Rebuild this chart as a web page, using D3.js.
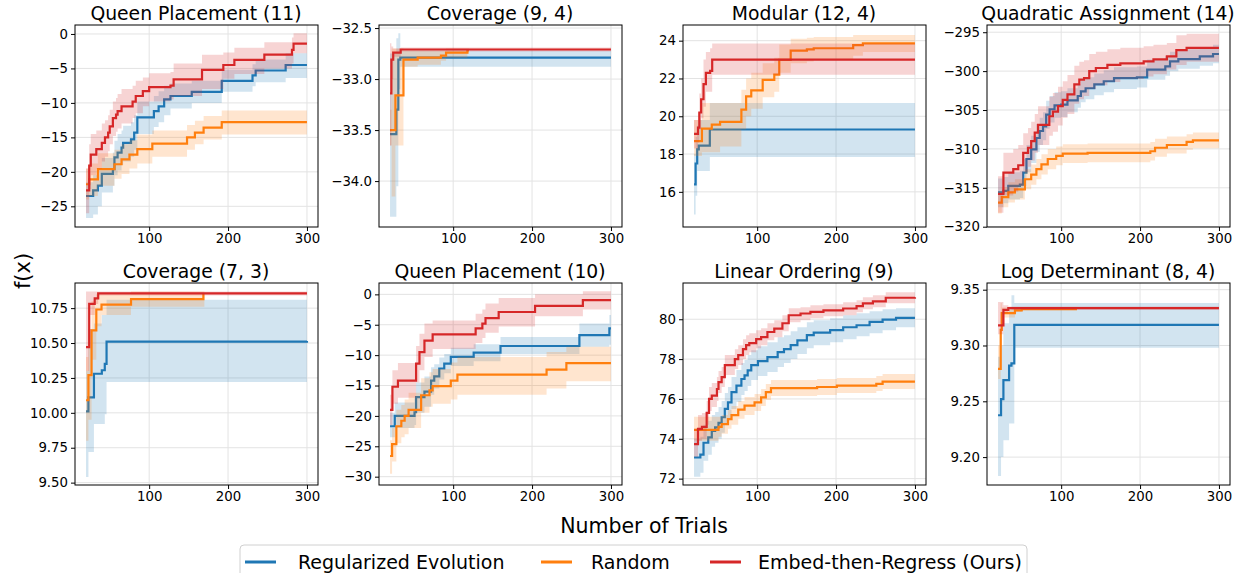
<!DOCTYPE html>
<html>
<head>
<meta charset="utf-8">
<script src="https://cdn.jsdelivr.net/npm/d3@7"></script>
<style>
  body { margin: 0; background: #fff; }
  svg { font-family: "DejaVu Sans", sans-serif; }
</style>
</head>
<body>
<svg id="chart" width="1236" height="573"></svg>
<script>
// series names + colours (legend order)
const seriesNames = ["Regularized Evolution", "Random", "Embed-then-Regress (Ours)"];
const seriesColors = ["#1f77b4", "#ff7f0e", "#d62728"];

const xTicks = [100, 200, 300];
const xDomain = [6, 314];

// each step point: [trial, mean, lower, upper]
// Queen Placement (11)
const qp11RE = [[20,-23.5,-26.7,-21.5],[29,-22.7,-26.2,-20.5],[35,-22,-25,-19.5],[40,-20.3,-23,-18],[54,-19.6,-22,-17.2],[56,-17.9,-20.5,-15.5],[60,-17.2,-19.8,-14.5],[65,-16.5,-19,-14],[67,-15.8,-18.5,-13.3],[77,-15.3,-17.8,-12.8],[81,-14.3,-16.8,-11.8],[85,-12.1,-14.5,-9.8],[106,-11.2,-13.5,-9],[112,-10.5,-12.8,-8.3],[119,-9.5,-11.8,-7.5],[127,-9.0,-10.8,-7.2],[154,-8.4,-10,-6.8],[192,-6.8,-8.4,-5.2],[231,-6.0,-7.6,-4.4],[235,-5.3,-7,-3.7],[273,-4.5,-6.4,-2.8],[300,-4.5,-6.4,-2.8]];
const qp11Rand = [[20,-21.8,-24,-19.5],[24,-21.1,-23.5,-18.8],[35,-19.6,-22,-17.3],[56,-18.9,-21,-16.8],[65,-18.2,-20.3,-16],[75,-17.5,-19.5,-15.4],[85,-16.7,-18.8,-14.6],[104,-15.9,-17.8,-14],[148,-15,-16.8,-13.2],[158,-14.3,-16,-12.6],[169,-13.6,-15.3,-11.9],[192,-12.8,-14.6,-11.1],[300,-12.8,-14.6,-11.1]];
const qp11EtR = [[20,-22.7,-26,-19.5],[24,-19.1,-22.5,-16],[26,-17.5,-20.5,-14.5],[33,-16.7,-19.5,-14],[40,-15.8,-18.5,-13],[44,-15,-17.8,-12.5],[48,-14.3,-17,-11.8],[50,-13.4,-16,-11],[54,-12.2,-14.8,-9.8],[58,-11.7,-14.2,-9.3],[60,-11.2,-13.7,-8.7],[65,-10.5,-13,-8],[79,-9.8,-12.2,-7.5],[83,-9.0,-11.5,-6.8],[92,-8.3,-10.5,-6.3],[100,-7.7,-9.8,-5.7],[127,-7.5,-9.5,-5.5],[131,-6.6,-9,-4.3],[167,-5.2,-8,-3],[194,-4.5,-6.5,-2.7],[208,-3.75,-5.8,-2],[246,-3.0,-5,-1.2],[281,-2.3,-4.3,-0.5],[283,-1.4,-2.8,0.1],[300,-1.4,-2.8,0.1]];

// Coverage (9, 4)
const cov94RE = [[20,-33.54,-34.35,-32.75],[28,-33.3,-34.05,-32.6],[30.5,-32.81,-33.1,-32.55],[33,-32.79,-32.88,-32.72],[300,-32.79,-32.86,-32.73]];
const cov94Rand = [[20,-33.5,-33.65,-33.3],[22,-33.5,-34.15,-32.7],[26.8,-33.16,-33.65,-32.7],[37,-32.81,-32.88,-32.72],[55,-32.79,-32.86,-32.72],[84.5,-32.77,-32.82,-32.72],[91,-32.74,-32.79,-32.7],[118,-32.72,-32.75,-32.7],[120,-32.72,-32.75,-32.7]];
const cov94EtR = [[20,-33.14,-33.65,-32.65],[21.7,-32.81,-33.0,-32.68],[24,-32.74,-32.78,-32.7],[33.5,-32.71,-32.73,-32.69],[300,-32.71,-32.73,-32.69]];

// Modular (12, 4)
const mod124RE = [[20,16.4,14.8,18.0],[22,17.5,15.8,18.9],[24,18.25,17.1,19.5],[26,18.45,17.1,19.8],[40,19.3,17.85,20.7],[300,19.3,17.85,20.7]];
const mod124Rand = [[20,18.68,17.9,19.8],[30,19.35,18.1,20.7],[42.5,19.56,18.1,20.7],[53,19.7,18.4,20.7],[80,20.35,19.3,21.4],[86,21.05,20.0,22.0],[92.5,21.37,20.4,22.3],[107,21.93,21.0,22.8],[121.7,22.2,21.3,23.1],[128,22.98,22.3,23.8],[142.5,23.47,22.8,24.1],[163,23.54,22.9,24.15],[171.7,23.6,23.0,24.2],[221.7,23.77,23.2,24.3],[234,23.86,23.4,24.3],[300,23.86,23.4,24.3]];
const mod124EtR = [[20,19.07,18.3,19.8],[25,19.4,18.6,20.2],[26.7,20.2,19.3,21.2],[29,20.9,19.9,22],[32,21.7,20.5,23],[35,22.3,21.3,23.4],[40.4,22.4,21.3,23.6],[43,23.0,22.2,23.85],[300,23.0,22.2,23.85]];

// Quadratic Assignment (14)
const qa14RE = [[20,-315.6,-317.5,-313.8],[26.8,-315.4,-317,-313.6],[33,-314.75,-316.5,-313],[47.7,-314.6,-316.3,-312.8],[51.9,-313.05,-314.8,-311.3],[56,-311.3,-313,-309.5],[62,-310.06,-311.8,-308.3],[68.6,-308.6,-310.4,-306.8],[72.8,-307.7,-309.5,-306],[77,-307.1,-308.9,-305.3],[81,-305.6,-307.4,-303.8],[85.4,-304.9,-306.6,-303.2],[91.6,-304.4,-306,-302.7],[100,-304.3,-305.9,-302.6],[108,-303.75,-305.3,-302.2],[121,-303.2,-304.7,-301.7],[125,-302.6,-304,-301.2],[131,-302.2,-303.6,-300.8],[142,-301.7,-303.1,-300.3],[154,-301.3,-302.7,-299.9],[167,-300.9,-302.3,-299.5],[196,-300.8,-302.1,-299.4],[209,-299.8,-301.1,-298.5],[232,-299.4,-300.6,-298.1],[238,-298.75,-300,-297.5],[248.5,-298.45,-299.7,-297.2],[275.7,-298.1,-299.3,-296.9],[292.5,-297.8,-299,-296.6],[300,-297.8,-299,-296.6]];
const qa14Rand = [[20,-316.9,-318.3,-315.5],[24.7,-316.2,-317.5,-314.9],[33,-315.6,-316.9,-314.3],[41.4,-315.2,-316.5,-313.9],[54,-313.9,-315.2,-312.6],[62,-313.3,-314.6,-312],[68.6,-312.6,-313.9,-311.3],[75,-312,-313.3,-310.7],[83,-311.3,-312.6,-310],[93.7,-310.9,-312.1,-309.7],[102,-310.6,-311.8,-309.4],[133.5,-310.5,-311.7,-309.3],[213,-310.3,-311.5,-309.1],[219,-309.85,-311,-308.7],[234,-309.5,-310.6,-308.4],[259,-309.1,-310.1,-308.1],[267,-308.9,-309.9,-307.9],[300,-308.9,-309.9,-307.9]];
const qa14EtR = [[20,-315.8,-318.2,-313.5],[26.8,-313.05,-316,-310.5],[39.3,-312.6,-315.5,-310],[45.6,-312.1,-314.8,-309.5],[51.9,-310.5,-313,-308],[58,-309.85,-312.3,-307.3],[62,-309,-311.5,-306.5],[66.5,-307.9,-310.5,-305.5],[70.7,-306.9,-309.5,-304.5],[85,-305.8,-308.3,-303.3],[89.5,-305.2,-307.8,-302.8],[96,-304.5,-307,-302],[102,-303.7,-306,-301.3],[108,-303,-305.5,-300.5],[116.7,-301.7,-304.2,-299.3],[123,-301.1,-303.6,-298.8],[129,-300.9,-303.2,-298.6],[135.6,-300,-302.3,-297.8],[144,-299.6,-301.8,-297.5],[158.6,-299.2,-301.4,-297.2],[175,-299,-301,-297],[204.6,-298.75,-300.7,-296.8],[217,-298.5,-300.4,-296.6],[234,-298.1,-299.8,-296.4],[246,-297.3,-299.2,-295.4],[259,-297,-298.8,-295.2],[300,-297,-298.8,-295.2]];

// Coverage (7, 3)
const cov73RE = [[20,10.01,9.54,10.3],[23,10.11,9.72,10.6],[30,10.28,9.92,10.64],[40,10.305,9.92,10.7],[43.75,10.35,9.99,10.7],[46,10.51,10.22,10.81],[300,10.515,10.22,10.81]];
const cov73Rand = [[20,10.09,9.8,10.4],[23,10.27,9.95,10.6],[27,10.59,10.38,10.8],[33,10.74,10.62,10.85],[39.6,10.775,10.7,10.85],[77,10.815,10.76,10.87],[168.75,10.85,10.76,10.87],[170,10.85,10.76,10.87]];
const cov73EtR = [[20,10.47,10.3,10.87],[24,10.78,10.7,10.87],[31,10.82,10.78,10.87],[35.4,10.855,10.84,10.87],[300,10.855,10.84,10.87]];

// Queen Placement (10)
const qp10RE = [[20,-21.7,-23.5,-19.5],[26,-20,-22,-17.8],[51,-19.4,-21.5,-17],[53,-16.9,-19.5,-14.5],[63.6,-16,-18.5,-13.5],[72,-14.2,-16.5,-12],[76,-13.5,-15.5,-11.5],[82.4,-12.2,-14,-10.4],[88.7,-11.4,-13,-9.8],[97,-10.3,-11.8,-8.8],[126,-9.6,-11,-8.2],[160,-8.5,-9.8,-7.0],[260,-6.7,-8.6,-4.8],[298,-5.6,-8.3,-3.4],[300,-5.6,-8.3,-3.4]];
const qp10Rand = [[20,-26.6,-29.5,-24],[22.6,-24.65,-27.5,-22],[28,-21.7,-24.5,-19],[34.3,-20.8,-23.5,-18.2],[38.5,-20,-23,-17.3],[43.5,-19,-22,-16.2],[59.4,-16.6,-19.5,-13.8],[70,-15.8,-18.5,-12.8],[74,-15.1,-18,-12.3],[97,-14.2,-17.3,-11.2],[105.4,-13.2,-16.5,-10.3],[218.4,-12.4,-15.5,-9.5],[243.5,-11.3,-14.3,-8.6],[300,-11.3,-14.3,-8.6]];
const qp10EtR = [[20,-19,-21.5,-16.5],[23,-15.2,-18,-12.5],[30,-14.2,-17,-11.3],[53,-11.4,-14.5,-8.5],[57.3,-9.5,-12.5,-6.5],[63.6,-7.6,-10.3,-4.8],[74,-6.6,-9,-4.3],[128.5,-5.6,-8,-3.2],[137,-4.8,-7.2,-2.5],[141,-3.9,-6.3,-1.5],[157.7,-2.9,-5.3,-0.6],[203.8,-1.9,-3.6,0],[264.4,-0.94,-2.5,0.5],[300,-0.94,-2.5,0.5]];

// Linear Ordering (9)
const lo9RE = [[20,73.06,72.1,74.0],[28,73.2,72.3,74.1],[32,73.8,72.9,74.7],[38,74.07,73.2,74.9],[42.5,74.4,73.6,75.2],[46.7,74.57,73.8,75.35],[51,74.8,74.0,75.6],[55,75.08,74.3,75.9],[59,75.5,74.7,76.3],[63,75.83,75.0,76.6],[67.5,76.34,75.5,77.1],[73.75,76.67,75.85,77.45],[80,77.0,76.2,77.8],[84,77.18,76.4,77.95],[88,77.43,76.65,78.2],[92.5,77.7,76.95,78.45],[101,77.9,77.15,78.65],[113,78.1,77.35,78.85],[126,78.35,77.6,79.1],[134,78.5,77.8,79.2],[142.5,78.7,78.0,79.4],[151,78.94,78.25,79.6],[163,79.2,78.55,79.85],[171.7,79.33,78.7,79.95],[192.5,79.45,78.85,80.05],[209,79.6,79.0,80.2],[226,79.7,79.15,80.3],[242.5,79.87,79.3,80.4],[259,79.98,79.45,80.5],[276,80.07,79.6,80.55],[300,80.07,79.6,80.55]];
const lo9Rand = [[20,74.45,73.9,75.1],[51,74.6,74.1,75.1],[55,74.74,74.25,75.2],[63,74.99,74.5,75.45],[67.5,75.19,74.7,75.65],[76,75.46,75.0,75.9],[84,75.66,75.2,76.1],[96.7,75.83,75.4,76.25],[105,76.08,75.65,76.5],[111,76.34,75.95,76.75],[117.5,76.54,76.15,76.95],[176,76.6,76.2,77.0],[201,76.67,76.3,77.05],[251,76.76,76.4,77.15],[259,76.87,76.5,77.25],[300,76.87,76.5,77.25]];
const lo9EtR = [[20,73.73,73.1,74.5],[25,74.5,73.9,75.2],[30,74.6,74.0,75.3],[36,75.3,74.7,75.9],[39,76.0,75.4,76.6],[42.5,76.17,75.6,76.8],[49,76.5,75.9,77.1],[51,76.84,76.3,77.4],[55,77.1,76.6,77.6],[59,77.7,77.2,78.2],[71.7,78.0,77.5,78.5],[76,78.2,77.7,78.7],[82,78.5,78.0,79.0],[86,78.7,78.2,79.2],[90,78.8,78.35,79.3],[98.75,79.0,78.55,79.45],[105,79.1,78.7,79.55],[113,79.36,78.95,79.8],[121.7,79.53,79.1,79.95],[132,79.8,79.4,80.2],[140,80.2,79.85,80.55],[155,80.29,79.95,80.6],[167.5,80.37,80.05,80.7],[184,80.45,80.15,80.75],[209,80.54,80.2,80.85],[226,80.66,80.35,80.95],[234,80.8,80.5,81.1],[246.7,80.9,80.6,81.2],[263,81.08,80.8,81.35],[300,81.1,80.8,81.35]];

// Log Determinant (8, 4)
const ld84RE = [[20,9.2375,9.183,9.29],[23.8,9.252,9.2,9.3],[26.8,9.269,9.215,9.32],[34,9.282,9.23,9.332],[37,9.284,9.23,9.345],[40.6,9.3185,9.298,9.338],[300,9.3185,9.298,9.338]];
const ld84Rand = [[20,9.279,9.27,9.3],[23.4,9.314,9.3,9.338],[24.7,9.329,9.325,9.334],[41.4,9.3315,9.33,9.333],[50,9.3326,9.3316,9.3336],[120,9.3326,9.3316,9.3336]];
const ld84EtR = [[20,9.318,9.31,9.339],[26.8,9.332,9.329,9.336],[33,9.3335,9.332,9.335],[300,9.3335,9.332,9.335]];

const titles = ["Queen Placement (11)", "Coverage (9, 4)", "Modular (12, 4)", "Quadratic Assignment (14)",
                "Coverage (7, 3)", "Queen Placement (10)", "Linear Ordering (9)", "Log Determinant (8, 4)"];
const yDomains = [[-28, 1.3], [-34.45, -32.47], [14.14, 24.83], [-320.04, -294.07],
                  [9.483, 10.93], [-31.37, 1.87], [71.68, 81.82], [9.175, 9.356]];
const yTicks = [[-25, -20, -15, -10, -5, 0], [-34.0, -33.5, -33.0, -32.5], [16, 18, 20, 22, 24], [-320, -315, -310, -305, -300, -295],
                [9.5, 9.75, 10, 10.25, 10.5, 10.75], [-30, -25, -20, -15, -10, -5, 0], [72, 74, 76, 78, 80], [9.2, 9.25, 9.3, 9.35]];
const yFormats = ["d", ".1f", "d", "d", ".2f", "d", "d", ".2f"];
const panelSeries = [
  [qp11RE, qp11Rand, qp11EtR], [cov94RE, cov94Rand, cov94EtR], [mod124RE, mod124Rand, mod124EtR], [qa14RE, qa14Rand, qa14EtR],
  [cov73RE, cov73Rand, cov73EtR], [qp10RE, qp10Rand, qp10EtR], [lo9RE, lo9Rand, lo9EtR], [ld84RE, ld84Rand, ld84EtR]
];

var svg = d3.select("#chart");
var colLeft = [75, 379, 683, 987];
var rowTop = [25, 283];
var pw = 243, ph = 202;

panelSeries.forEach(function(series, i) {
    var left = colLeft[i % 4], top = rowTop[Math.floor(i / 4)];
    var x = d3.scaleLinear().domain(xDomain).range([0, pw]);
    var y = d3.scaleLinear().domain(yDomains[i]).range([ph, 0]);

    var g = svg.append("g").attr("transform", "translate(" + left + "," + top + ")");

    // grid
    g.append("g").selectAll("line.gx").data(xTicks).enter().append("line")
        .attr("x1", d => x(d)).attr("x2", d => x(d)).attr("y1", 0).attr("y2", ph)
        .attr("stroke", "#e3e3e3").attr("stroke-width", 1);
    g.append("g").selectAll("line.gy").data(yTicks[i]).enter().append("line")
        .attr("y1", d => y(d)).attr("y2", d => y(d)).attr("x1", 0).attr("x2", pw)
        .attr("stroke", "#e3e3e3").attr("stroke-width", 1);

    var clip = "clip" + i;
    g.append("clipPath").attr("id", clip).append("rect").attr("width", pw).attr("height", ph);
    var plot = g.append("g").attr("clip-path", "url(#" + clip + ")");

    var area = d3.area().curve(d3.curveStepAfter)
        .x(d => x(d[0])).y0(d => y(d[2])).y1(d => y(d[3]));
    var line = d3.line().curve(d3.curveStepAfter)
        .x(d => x(d[0])).y(d => y(d[1]));

    series.forEach(function(s, k) {
        plot.append("path").attr("d", area(s))
            .attr("fill", seriesColors[k]).attr("fill-opacity", 0.2);
        plot.append("path").attr("d", line(s))
            .attr("fill", "none").attr("stroke", seriesColors[k]).attr("stroke-width", 2.2);
    });

    // axes
    var fmt = d3.format(yFormats[i]);
    var ax = g.append("g").attr("transform", "translate(0," + ph + ")")
        .call(d3.axisBottom(x).tickValues(xTicks).tickSize(4).tickPadding(3));
    var ay = g.append("g")
        .call(d3.axisLeft(y).tickValues(yTicks[i]).tickFormat(fmt).tickSize(4).tickPadding(3));
    [ax, ay].forEach(function(a) {
        a.select(".domain").remove();
        a.selectAll("text").attr("font-size", "13.3px").attr("font-family", "DejaVu Sans").attr("fill", "#000");
        a.selectAll("line").attr("stroke", "#000");
    });

    g.append("rect").attr("width", pw).attr("height", ph)
        .attr("fill", "none").attr("stroke", "#000").attr("stroke-width", 1);

    g.append("text").attr("x", pw / 2 - 0.5).attr("y", -5)
        .attr("text-anchor", "middle").attr("font-size", "18.8px").attr("fill", "#000")
        .text(titles[i]);
});

// shared labels
svg.append("text").attr("x", 644).attr("y", 533).attr("text-anchor", "middle")
    .attr("font-size", "20.5px").text("Number of Trials");
svg.append("text").attr("transform", "translate(30,271) rotate(-90)").attr("text-anchor", "middle")
    .attr("font-size", "21px").text("f(x)");

// legend
var leg = svg.append("g");
leg.append("rect").attr("x", 240).attr("y", 545).attr("width", 787).attr("height", 40).attr("rx", 4)
    .attr("fill", "#fff").attr("stroke", "#d0d0d0");
var legX = [245, 541, 710];
var legTextX = [298, 591, 758];
seriesNames.forEach(function(n, k) {
    leg.append("line").attr("x1", legX[k]).attr("x2", legX[k] + 31).attr("y1", 562).attr("y2", 562)
        .attr("stroke", seriesColors[k]).attr("stroke-width", 3);
    leg.append("text").attr("x", legTextX[k]).attr("y", 569).attr("font-size", "19px").text(n);
});
</script>
</body>
</html>
